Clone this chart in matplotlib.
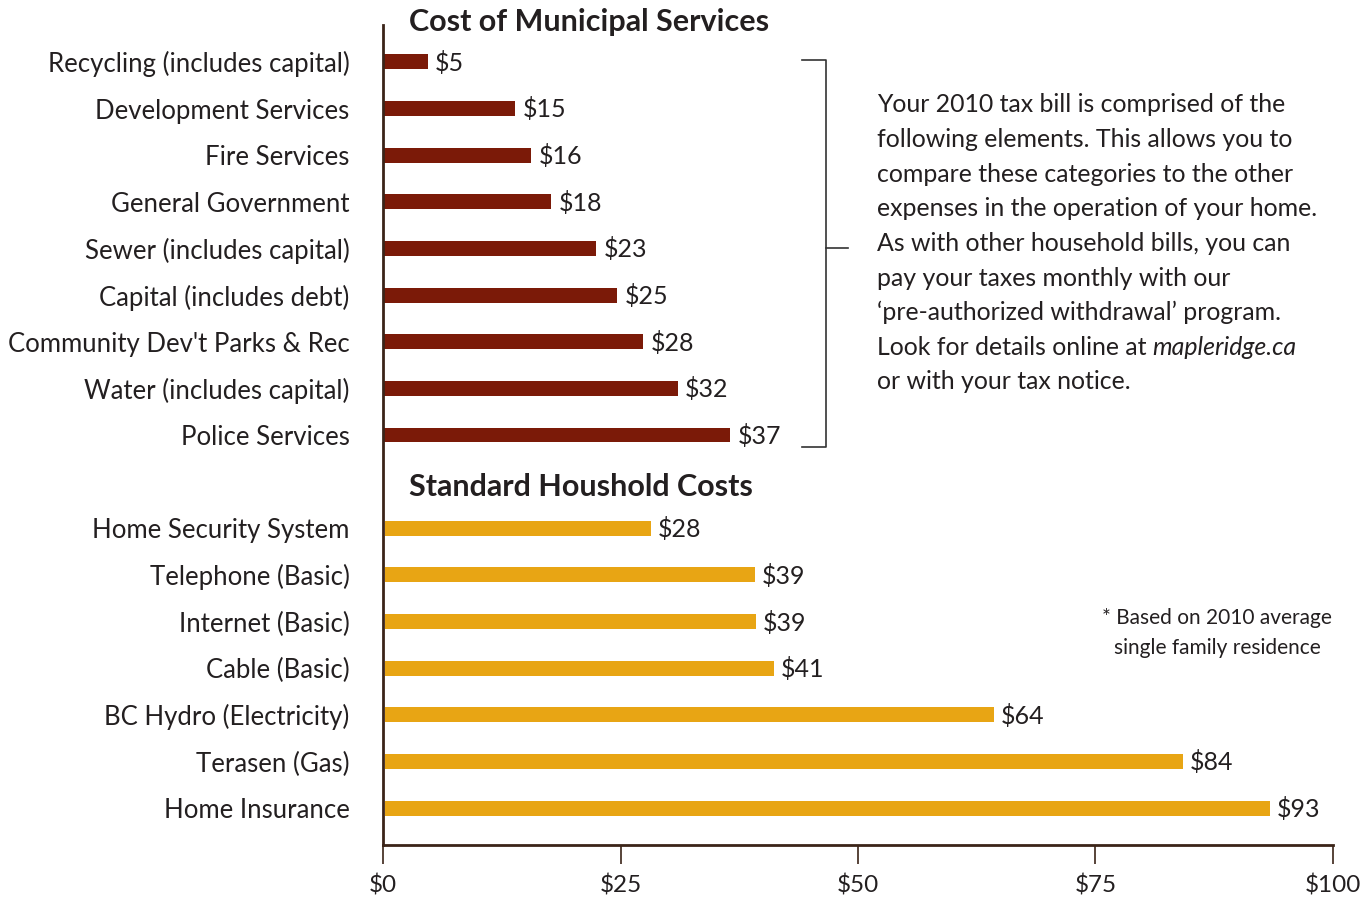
import matplotlib.pyplot as plt
import numpy as np

plt.rcParams['font.family'] = ['Lato', 'DejaVu Sans']

# municipal services (monthly cost)
muni_labels = ["Recycling (includes capital)", "Development Services", "Fire Services",
               "General Government", "Sewer (includes capital)", "Capital (includes debt)",
               "Community Dev't Parks & Rec", "Water (includes capital)", "Police Services"]
muni_values = [4.7, 13.9, 15.6, 17.7, 22.4, 24.6, 27.4, 31.0, 36.5]
muni_text = ["$5", "$15", "$16", "$18", "$23", "$25", "$28", "$32", "$37"]

# standard household costs
home_labels = ["Home Security System", "Telephone (Basic)", "Internet (Basic)", "Cable (Basic)",
               "BC Hydro (Electricity)", "Terasen (Gas)", "Home Insurance"]
home_values = [28.0, 39.0, 39.1, 41.0, 64.1, 84.0, 93.2]
home_text = ["$28", "$39", "$39", "$41", "$64", "$84", "$93"]

x_ticks = [0, 25, 50, 75, 100]
x_ticklabels = ["$0", "$25", "$50", "$75", "$100"]

red = "#7b1a08"
gold = "#e8a514"
axis_col = "#3b2418"
txt = "#231f20"

fig = plt.figure(figsize=(13.67, 9), dpi=100)
ax = fig.add_axes([0.2802, 0.0611, 0.6949, 0.9111])

muni_pos = np.arange(len(muni_labels))
home_pos = np.arange(len(home_labels)) + len(muni_labels) + 1

ax.barh(muni_pos, muni_values, height=0.32, color=red)
ax.barh(home_pos, home_values, height=0.32, left=0.2, color=gold)

for p, v, t in zip(muni_pos, muni_values, muni_text):
    ax.text(v + 0.8, p + 0.02, t, va='center', ha='left', fontsize=18, color=txt)
for p, v, t in zip(home_pos, home_values, home_text):
    ax.text(v + 0.9, p + 0.02, t, va='center', ha='left', fontsize=18, color=txt)

ax.set_yticks(list(muni_pos) + list(home_pos))
ax.set_yticklabels(muni_labels + home_labels, fontsize=18.5, color=txt)
ax.tick_params(axis='y', length=0, pad=24)

ax.set_xlim(0, 100)
ax.set_ylim(16.79, -0.79)
ax.set_xticks(x_ticks)
ax.set_xticklabels(x_ticklabels, fontsize=17.5, color=txt)
ax.tick_params(axis='x', direction='out', length=14, width=1.2, color=axis_col, pad=7)

for s in ['top', 'right']:
    ax.spines[s].set_visible(False)
for s in ['left', 'bottom']:
    ax.spines[s].set_color(axis_col)
    ax.spines[s].set_linewidth(2)

# section titles
ax.text(2.7, -0.86, "Cost of Municipal Services", fontsize=22, fontweight='bold',
        color=txt, va='center', ha='left', clip_on=False)
ax.text(2.7, 9.12, "Standard Houshold Costs", fontsize=22, fontweight='bold',
        color=txt, va='center', ha='left', clip_on=False)

# bracket
bk = dict(color='#333333', lw=1.2, clip_on=False)
ax.plot([44.1, 46.6, 46.6, 44.1], [-0.04, -0.04, 8.26, 8.26], **bk)
ax.plot([46.6, 48.9], [4.0, 4.0], **bk)

# explanatory paragraph
para = ["Your 2010 tax bill is comprised of the",
        "following elements. This allows you to",
        "compare these categories to the other",
        "expenses in the operation of your home.",
        "As with other household bills, you can",
        "pay your taxes monthly with our",
        "\u2018pre-authorized withdrawal\u2019 program.",
        "Look for details online at",
        "or with your tax notice."]
y0 = 105
for i, line in enumerate(para):
    t = fig.text(877 / 1367, 1 - (y0 + i * 34.6) / 900, line, fontsize=17.9,
                 color=txt, va='center', ha='left')
    if line.startswith("Look"):
        ax.annotate("mapleridge.ca", xy=(1, 0), xycoords=t, xytext=(4, 0),
                    textcoords='offset points', fontsize=17.9, style='italic',
                    color=txt, va='bottom', ha='left', annotation_clip=False)

# footnote
fig.text(1217 / 1367, 1 - 633 / 900, "* Based on 2010 average\nsingle family residence",
         fontsize=15, color=txt, ha='center', va='center', linespacing=1.65)

fig.savefig("out.png", dpi=100)
